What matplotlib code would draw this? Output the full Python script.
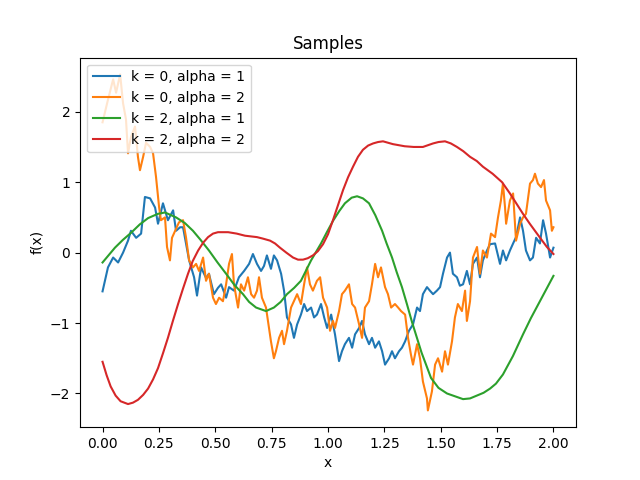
import matplotlib
matplotlib.use('Agg')
import matplotlib.pyplot as plt

# k = 0, alpha = 1 (rough path)
x_b = [0.0, 0.024, 0.047, 0.069, 0.091, 0.113, 0.126, 0.149, 0.171, 0.188, 0.211, 0.233, 0.246, 0.268,
       0.29, 0.313, 0.326, 0.344, 0.357, 0.384, 0.406, 0.419, 0.437, 0.459, 0.472, 0.494, 0.512, 0.526,
       0.548, 0.561, 0.583, 0.605, 0.628, 0.65, 0.667, 0.685, 0.703, 0.716, 0.729, 0.747, 0.76, 0.774,
       0.792, 0.805, 0.818, 0.836, 0.849, 0.863, 0.88, 0.894, 0.907, 0.925, 0.938, 0.951, 0.969, 0.983,
       0.996, 1.014, 1.031, 1.049, 1.062, 1.075, 1.093, 1.107, 1.12, 1.138, 1.151, 1.164, 1.182, 1.195,
       1.209, 1.226, 1.24, 1.253, 1.271, 1.284, 1.297, 1.315, 1.328, 1.342, 1.359, 1.377, 1.395, 1.408,
       1.421, 1.439, 1.452, 1.466, 1.483, 1.497, 1.51, 1.528, 1.541, 1.554, 1.572, 1.585, 1.599, 1.616,
       1.63, 1.643, 1.661, 1.674, 1.687, 1.705, 1.719, 1.741, 1.763, 1.776, 1.79, 1.807, 1.821, 1.834,
       1.852, 1.865, 1.878, 1.896, 1.909, 1.923, 1.94, 1.954, 1.967, 1.985, 2.0]
y_b = [-0.55, -0.21, -0.07, -0.14, 0.0, 0.17, 0.31, 0.21, 0.27, 0.79, 0.77, 0.64, 0.41, 0.70,
       0.46, 0.60, 0.31, 0.36, 0.36, -0.11, -0.35, -0.61, -0.21, -0.36, -0.30, -0.59, -0.50, -0.45,
       -0.64, -0.49, -0.54, -0.35, -0.26, -0.16, -0.02, -0.16, -0.26, -0.19, -0.04, -0.23, -0.04, -0.11,
       -0.30, -0.54, -0.92, -1.02, -1.21, -1.02, -0.88, -0.73, -0.83, -0.78, -0.92, -0.88, -0.73, -0.92,
       -1.07, -0.88, -1.16, -1.54, -1.40, -1.30, -1.21, -1.35, -1.16, -1.07, -0.97, -1.16, -1.30, -1.21,
       -1.35, -1.26, -1.40, -1.59, -1.50, -1.40, -1.50, -1.40, -1.35, -1.26, -1.11, -1.02, -0.78, -0.83,
       -0.59, -0.49, -0.54, -0.59, -0.54, -0.49, -0.30, -0.07, 0.0, -0.30, -0.35, -0.47, -0.45, -0.26,
       -0.45, -0.16, -0.07, -0.35, -0.11, 0.03, 0.12, 0.13, -0.16, 0.03, -0.11, 0.03, 0.13, 0.22,
       0.50, 0.31, 0.03, -0.11, -0.07, 0.21, 0.13, 0.46, 0.27, -0.07, 0.07]

# k = 0, alpha = 2 (rough path)
x_o = [0.0, 0.024, 0.047, 0.06, 0.078, 0.091, 0.104, 0.113, 0.126, 0.144, 0.157, 0.166, 0.18, 0.193,
       0.211, 0.224, 0.237, 0.251, 0.259, 0.277, 0.286, 0.299, 0.308, 0.322, 0.339, 0.357, 0.37, 0.384,
       0.401, 0.415, 0.428, 0.446, 0.459, 0.472, 0.49, 0.503, 0.517, 0.534, 0.548, 0.561, 0.574, 0.583,
       0.601, 0.614, 0.628, 0.645, 0.659, 0.672, 0.685, 0.694, 0.707, 0.725, 0.738, 0.747, 0.76, 0.769,
       0.783, 0.796, 0.805, 0.818, 0.836, 0.849, 0.863, 0.88, 0.894, 0.907, 0.92, 0.933, 0.951, 0.965,
       0.978, 0.996, 1.009, 1.022, 1.031, 1.049, 1.062, 1.075, 1.093, 1.107, 1.12, 1.138, 1.151, 1.164,
       1.182, 1.195, 1.209, 1.222, 1.235, 1.253, 1.266, 1.28, 1.297, 1.311, 1.324, 1.342, 1.355, 1.368,
       1.377, 1.395, 1.408, 1.421, 1.439, 1.443, 1.461, 1.475, 1.488, 1.506, 1.519, 1.532, 1.55, 1.563,
       1.576, 1.594, 1.608, 1.616, 1.63, 1.643, 1.661, 1.674, 1.687, 1.705, 1.723, 1.741, 1.754, 1.767,
       1.776, 1.785, 1.79, 1.807, 1.821, 1.834, 1.852, 1.865, 1.878, 1.896, 1.909, 1.918, 1.931, 1.945,
       1.958, 1.967, 1.985, 1.993, 2.0]
y_o = [1.85, 2.17, 2.46, 2.27, 2.53, 2.12, 1.89, 1.41, 1.64, 1.79, 1.36, 1.17, 1.36, 1.56,
       1.50, 1.41, 1.08, 0.64, 0.46, 0.50, 0.08, -0.11, 0.21, 0.31, 0.43, 0.46, 0.22, -0.11,
       -0.21, -0.16, -0.26, -0.07, -0.40, -0.30, -0.64, -0.73, -0.64, -0.69, -0.45, -0.16, -0.02, -0.45,
       -0.78, -0.45, -0.54, -0.35, -0.59, -0.64, -0.54, -0.35, -0.64, -0.78, -1.07, -1.26, -1.50, -1.40,
       -1.21, -1.11, -1.30, -1.11, -0.78, -0.69, -0.59, -0.73, -0.45, -0.21, -0.45, -0.54, -0.40, -0.35,
       -0.64, -0.78, -1.11, -0.97, -1.07, -0.83, -0.59, -0.54, -0.45, -0.73, -0.78, -1.02, -1.21, -0.78,
       -0.69, -0.45, -0.16, -0.35, -0.21, -0.49, -0.59, -0.78, -0.73, -0.78, -0.83, -0.88, -1.21, -1.45,
       -1.59, -1.30, -1.50, -1.83, -2.07, -2.24, -1.97, -1.59, -1.50, -1.69, -1.40, -1.59, -1.26, -0.92,
       -0.73, -0.83, -0.54, -0.97, -0.69, -0.07, 0.08, -0.30, 0.03, -0.07, 0.27, 0.22, 0.50, 0.74,
       0.98, 0.65, 0.41, 0.74, 0.84, 0.17, 0.41, 0.50, 0.55, 0.98, 1.03, 1.12, 0.98, 0.93,
       1.03, 0.74, 0.60, 0.31, 0.36]

# k = 2, alpha = 1 (smooth path)
x_g = [0.0, 0.055, 0.09, 0.126, 0.165, 0.202, 0.245, 0.277, 0.326, 0.365, 0.401, 0.435, 0.472, 0.51,
       0.548, 0.585, 0.623, 0.65, 0.681, 0.725, 0.76, 0.79, 0.818, 0.85, 0.88, 0.925, 0.969, 0.995,
       1.022, 1.05, 1.075, 1.105, 1.129, 1.155, 1.182, 1.21, 1.24, 1.26, 1.284, 1.305, 1.328, 1.35,
       1.373, 1.415, 1.457, 1.49, 1.528, 1.599, 1.63, 1.66, 1.69, 1.719, 1.745, 1.776, 1.82, 1.865,
       1.90, 1.94, 1.97, 2.0]
y_g = [-0.14, 0.07, 0.18, 0.28, 0.40, 0.49, 0.55, 0.57, 0.50, 0.42, 0.31, 0.18, 0.03, -0.14,
       -0.30, -0.46, -0.59, -0.70, -0.78, -0.83, -0.78, -0.70, -0.59, -0.50, -0.40, -0.11, 0.13, 0.29,
       0.45, 0.59, 0.70, 0.78, 0.80, 0.77, 0.70, 0.53, 0.31, 0.13, -0.07, -0.28, -0.49, -0.73,
       -0.99, -1.42, -1.78, -1.92, -2.00, -2.08, -2.07, -2.03, -1.99, -1.93, -1.86, -1.73, -1.47, -1.16,
       -0.93, -0.69, -0.51, -0.33]

# k = 2, alpha = 2 (smooth path)
x_r = [0.0, 0.018, 0.036, 0.058, 0.08, 0.113, 0.135, 0.157, 0.18, 0.202, 0.224, 0.246, 0.268, 0.29,
       0.312, 0.335, 0.357, 0.379, 0.40, 0.424, 0.446, 0.468, 0.49, 0.512, 0.557, 0.595, 0.632, 0.685,
       0.71, 0.743, 0.765, 0.787, 0.815, 0.845, 0.867, 0.889, 0.91, 0.933, 0.955, 0.978, 1.0, 1.022,
       1.045, 1.067, 1.089, 1.111, 1.133, 1.155, 1.178, 1.2, 1.222, 1.244, 1.266, 1.288, 1.34, 1.38,
       1.421, 1.466, 1.49, 1.519, 1.545, 1.572, 1.60, 1.63, 1.66, 1.687, 1.73, 1.772, 1.807, 1.835,
       1.865, 1.895, 1.927, 1.95, 1.971, 2.0]
y_r = [-1.55, -1.74, -1.90, -2.03, -2.11, -2.15, -2.13, -2.09, -2.02, -1.93, -1.80, -1.64, -1.43, -1.21,
       -0.97, -0.73, -0.51, -0.30, -0.12, 0.03, 0.14, 0.22, 0.27, 0.29, 0.29, 0.27, 0.24, 0.22,
       0.20, 0.17, 0.13, 0.07, 0.0, -0.07, -0.10, -0.10, -0.08, -0.04, 0.02, 0.12, 0.26, 0.46,
       0.68, 0.89, 1.07, 1.22, 1.36, 1.46, 1.52, 1.55, 1.57, 1.58, 1.56, 1.54, 1.51, 1.50,
       1.50, 1.55, 1.57, 1.58, 1.55, 1.50, 1.44, 1.36, 1.30, 1.22, 1.12, 1.00, 0.84, 0.70,
       0.55, 0.41, 0.27, 0.17, 0.08, -0.02]

fig, ax = plt.subplots(figsize=(6.4, 4.8), dpi=100)
ax.plot(x_b, y_b, label="k = 0, alpha = 1")
ax.plot(x_o, y_o, label="k = 0, alpha = 2")
ax.plot(x_g, y_g, label="k = 2, alpha = 1")
ax.plot(x_r, y_r, label="k = 2, alpha = 2")
ax.set_title("Samples")
ax.set_xlabel("x")
ax.set_ylabel("f(x)")
ax.legend(loc="upper left")
fig.savefig("out.png")
